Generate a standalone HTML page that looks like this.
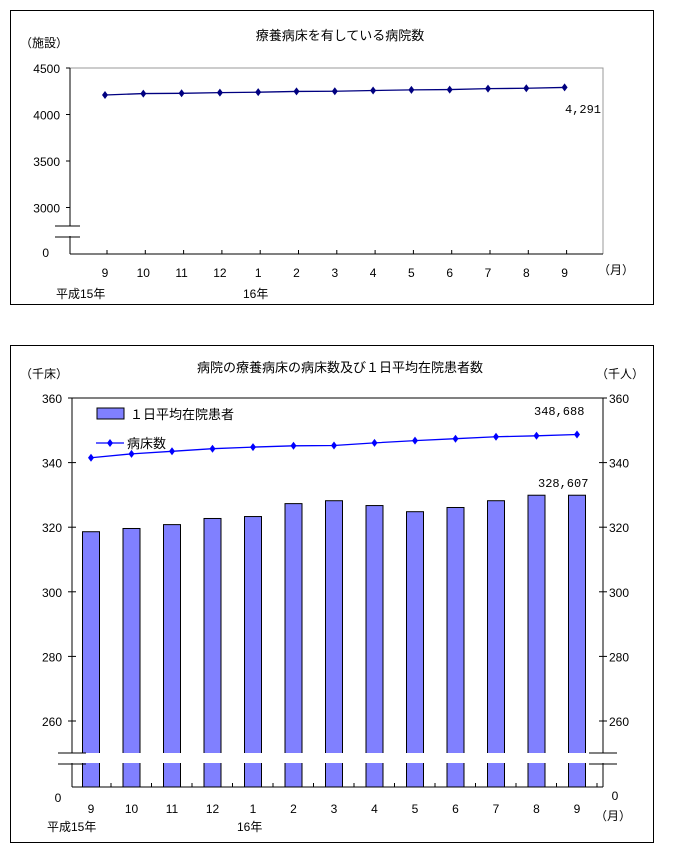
<!DOCTYPE html>
<html><head><meta charset="utf-8"><style>
body{margin:0;background:#fff;width:696px;height:847px;overflow:hidden}
svg{display:block;font-family:"Liberation Sans","Noto Sans CJK JP",sans-serif}
</style></head><body>
<svg width="696" height="847">
<g id="top"></g>
<g id="bot"></g>
</svg>
<script>
const months=["9","10","11","12","1","2","3","4","5","6","7","8","9"];
const hospitals=[4210,4225,4228,4235,4240,4248,4250,4258,4265,4268,4278,4282,4291];
const topTicks=[4500,4000,3500,3000];
const patients=[318.6,319.6,320.8,322.7,323.3,327.3,328.2,326.7,324.8,326.1,328.2,329.9,329.9];
const beds=[341.5,342.7,343.5,344.3,344.8,345.2,345.3,346.1,346.8,347.4,348.0,348.3,348.7];
const botTicks=[360,340,320,300,280,260];
const NS="http://www.w3.org/2000/svg";
function mk(p,t,a,txt){const e=document.createElementNS(NS,t);for(const k in a)e.setAttribute(k,a[k]);if(txt!==undefined)e.textContent=txt;p.appendChild(e);return e;}
// TOP
const T=document.getElementById('top');
mk(T,'rect',{x:10.5,y:10.5,width:643,height:294,fill:'none',stroke:'#000'});
const tx=i=>105+i*38.3, ty=v=>68+(4500-v)*46.5/500;
mk(T,'text',{x:340,y:40,'font-size':13,'text-anchor':'middle'},'療養病床を有している病院数');
mk(T,'text',{x:20,y:47,'font-size':12},'（施設）');
mk(T,'polyline',{points:'70,68 603,68 603,254',fill:'none',stroke:'#999'});
mk(T,'line',{x1:70,y1:68,x2:70,y2:226,stroke:'#000'});
mk(T,'line',{x1:70,y1:236,x2:70,y2:254,stroke:'#000'});
mk(T,'line',{x1:70,y1:254,x2:603,y2:254,stroke:'#000'});
mk(T,'line',{x1:55,y1:226,x2:80,y2:226,stroke:'#000'});
mk(T,'line',{x1:55,y1:237,x2:80,y2:237,stroke:'#000'});
topTicks.forEach(v=>{mk(T,'line',{x1:66,y1:ty(v),x2:70,y2:ty(v),stroke:'#000'});mk(T,'text',{x:60,y:ty(v)+5,'font-size':12,'text-anchor':'end'},String(v));});
mk(T,'text',{x:49,y:257,'font-size':12,'text-anchor':'end'},'0');
months.forEach((m,i)=>{mk(T,'line',{x1:tx(i)+2,y1:250,x2:tx(i)+2,y2:254,stroke:'#000'});mk(T,'text',{x:tx(i),y:277,'font-size':12,'text-anchor':'middle'},m);});
mk(T,'text',{x:598,y:274,'font-size':12},'（月）');
mk(T,'text',{x:56,y:298,'font-size':12},'平成15年');
mk(T,'text',{x:243,y:298,'font-size':12},'16年');
const tl=mk(T,'polyline',{points:hospitals.map((v,i)=>tx(i)+','+ty(v)).join(' '),fill:'none',stroke:'#000080','stroke-width':1.3});

hospitals.forEach((v,i)=>{const d=mk(T,'path',{d:`M${tx(i)},${ty(v)-4}l3,4l-3,4l-3,-4z`,fill:'#000080'});
});
mk(T,'text',{x:565,y:113,'font-size':12,'font-family':'Liberation Mono,monospace'},'4,291');
// BOTTOM
const B=document.getElementById('bot');
mk(B,'rect',{x:10.5,y:345.5,width:643,height:497,fill:'none',stroke:'#000'});
const bx=i=>91+i*40.5, by=v=>398+(360-v)*64.6/20, base=787;
mk(B,'text',{x:340,y:372,'font-size':13,'text-anchor':'middle'},'病院の療養病床の病床数及び１日平均在院患者数');
mk(B,'text',{x:20,y:378,'font-size':12},'（千床）');
mk(B,'text',{x:596,y:378,'font-size':12},'（千人）');
mk(B,'line',{x1:72,y1:398,x2:603,y2:398,stroke:'#000'});
patients.forEach((v,i)=>{const r=mk(B,'rect',{x:bx(i)-8.5,y:by(v),width:17,height:base-by(v),fill:'#8080ff',stroke:'#000'});
});
mk(B,'rect',{x:73,y:753,width:529,height:10,fill:'#fff'});
[72,603].forEach(x=>{mk(B,'line',{x1:x,y1:398,x2:x,y2:753,stroke:'#000'});mk(B,'line',{x1:x,y1:763,x2:x,y2:787,stroke:'#000'});
mk(B,'line',{x1:x-14,y1:753,x2:x+14,y2:753,stroke:'#000'});mk(B,'line',{x1:x-14,y1:764,x2:x+14,y2:764,stroke:'#000'});});
mk(B,'line',{x1:72,y1:787,x2:603,y2:787,stroke:'#000'});
botTicks.forEach(v=>{mk(B,'line',{x1:68,y1:by(v),x2:76,y2:by(v),stroke:'#000'});mk(B,'line',{x1:599,y1:by(v),x2:607,y2:by(v),stroke:'#000'});
mk(B,'text',{x:62,y:by(v)+5,'font-size':12,'text-anchor':'end'},String(v));mk(B,'text',{x:609,y:by(v)+5,'font-size':12},String(v));});
mk(B,'text',{x:58,y:802,'font-size':12,'text-anchor':'middle'},'0');
mk(B,'text',{x:615,y:800,'font-size':12,'text-anchor':'middle'},'0');
months.forEach((m,i)=>{mk(B,'line',{x1:bx(i)+20,y1:783,x2:bx(i)+20,y2:787,stroke:'#000'});mk(B,'text',{x:bx(i),y:813,'font-size':12,'text-anchor':'middle'},m);});
mk(B,'text',{x:595,y:820,'font-size':12},'（月）');
mk(B,'text',{x:47,y:831,'font-size':12},'平成15年');
mk(B,'text',{x:237,y:831,'font-size':12},'16年');
const bl=mk(B,'polyline',{points:beds.map((v,i)=>bx(i)+','+by(v)).join(' '),fill:'none',stroke:'#0000ff','stroke-width':1.3});

beds.forEach((v,i)=>{const d=mk(B,'path',{d:`M${bx(i)},${by(v)-4}l3,4l-3,4l-3,-4z`,fill:'#0000ff'});
});
mk(B,'text',{x:534,y:415,'font-size':12,'font-family':'Liberation Mono,monospace'},'348,688');
mk(B,'text',{x:538,y:487,'font-size':12,'font-family':'Liberation Mono,monospace'},'328,607');
// legend
mk(B,'rect',{x:97,y:408,width:27,height:11,fill:'#8080ff',stroke:'#000'});
mk(B,'text',{x:130,y:419,'font-size':13},'１日平均在院患者');
mk(B,'line',{x1:96,y1:443,x2:124,y2:443,stroke:'#0000ff','stroke-width':1.3});
mk(B,'path',{d:'M110,439l3,4l-3,4l-3,-4z',fill:'#0000ff'});
mk(B,'text',{x:127,y:448,'font-size':13},'病床数');
</script>
</body></html>
